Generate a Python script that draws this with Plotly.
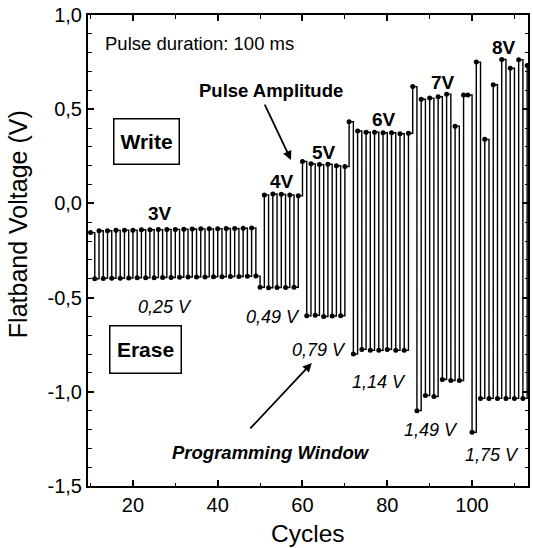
import plotly.graph_objects as go

# cycle numbers and flatband voltages (alternating write / erase readings)
cycles = list(range(10, 114))

v_3V = [-0.155, -0.400, -0.145, -0.398, -0.145, -0.397, -0.143, -0.397, -0.142, -0.396,
        -0.142, -0.395, -0.140, -0.395, -0.140, -0.394, -0.139, -0.393, -0.138, -0.393,
        -0.138, -0.392, -0.137, -0.391, -0.136, -0.391, -0.135, -0.390, -0.135, -0.389,
        -0.134, -0.389, -0.133, -0.388, -0.133, -0.388, -0.132, -0.387, -0.130, -0.386]
v_4V = [-0.445, 0.045, -0.448, 0.050, -0.447, 0.048, -0.446, 0.045, -0.445, 0.040]
v_5V = [0.223, -0.597, 0.210, -0.594, 0.206, -0.600, 0.208, -0.598, 0.200, -0.596, 0.196]
v_6V = [0.434, -0.800, 0.384, -0.775, 0.378, -0.780, 0.378, -0.780, 0.375, -0.775,
        0.375, -0.780, 0.370, -0.780, 0.372]
v_7V = [0.620, -1.100, 0.553, -1.020, 0.559, -1.025, 0.566, -0.935, 0.580, -0.940,
        0.410, -0.940, 0.575, 0.575]
v_8V = [-1.215, 0.750, -1.035, 0.340, -1.035, 0.630, -1.035, 0.764, -1.035, 0.718,
        -1.035, 0.763, -1.035, 0.732]

voltage = v_3V + v_4V + v_5V + v_6V + v_7V + v_8V

y_tickvals = [-1.5, -1.0, -0.5, 0.0, 0.5, 1.0]
y_ticktext = ["-1,5", "-1,0", "-0,5", "0,0", "0,5", "1,0"]
x_tickvals = [20, 40, 60, 80, 100]

FONT = "Liberation Sans, Arial, Helvetica, sans-serif"

fig = go.Figure()
fig.add_trace(go.Scatter(
    x=cycles, y=voltage, mode="lines+markers",
    line=dict(color="black", width=1.4, shape="hv"),
    marker=dict(color="black", size=5),
    showlegend=False, cliponaxis=False,
))

ann = []
def txt(x, y, s, size, bold=False, italic=False, **kw):
    t = s
    if bold:
        t = "<b>" + t + "</b>"
    if italic:
        t = "<i>" + t + "</i>"
    d = dict(x=x, y=y, xref="x", yref="y", text=t, showarrow=False,
             font=dict(family=FONT, size=size, color="black"))
    d.update(kw)
    ann.append(d)

txt(13.0, 0.851, "Pulse duration: 100 ms", 18.5, xanchor="left")
txt(52.6, 0.597, "Pulse Amplitude", 18.5, bold=True)
txt(23.3, 0.331, "Write", 21, bold=True, bordercolor="black", borderwidth=1.5,
    width=60, height=40, borderpad=2)
txt(23.0, -0.773, "Erase", 21, bold=True, bordercolor="black", borderwidth=1.5,
    width=66, height=42, borderpad=2)
for (x, y, s) in [(26.3, -0.051, "3V"), (55.2, 0.114, "4V"), (65.1, 0.268, "5V"),
                  (79.2, 0.443, "6V"), (93.2, 0.644, "7V"), (107.6, 0.830, "8V")]:
    txt(x, y, s, 19, bold=True)
for (x, y, s) in [(27.5, -0.550, "0,25 V"), (53.1, -0.603, "0,49 V"), (63.9, -0.778, "0,79 V"),
                  (78.0, -0.948, "1,14 V"), (90.2, -1.203, "1,49 V"), (104.8, -1.335, "1,75 V")]:
    txt(x, y, s, 18, italic=True)
txt(52.6, -1.320, "Programming Window", 18.5, bold=True, italic=True)

# arrows
ann.append(dict(x=57.3, y=0.230, xref="x", yref="y", ax=-27, ay=-57, text="",
                showarrow=True, arrowhead=2, arrowsize=1, arrowwidth=1.8, arrowcolor="black"))
ann.append(dict(x=62.2, y=-0.847, xref="x", yref="y", ax=-63, ay=67, text="",
                showarrow=True, arrowhead=2, arrowsize=1, arrowwidth=1.8, arrowcolor="black"))

# axis titles
ann.append(dict(x=0.5, y=-0.1, xref="paper", yref="paper", text="Cycles", showarrow=False,
                xanchor="center", yanchor="middle",
                font=dict(family=FONT, size=24.5, color="black")))
ann.append(dict(x=-0.16, y=0.555, xref="paper", yref="paper", text="Flatband Voltage (V)",
                showarrow=False, textangle=-90, xanchor="center", yanchor="middle",
                font=dict(family=FONT, size=25, color="black")))

fig.update_layout(
    width=533, height=548,
    margin=dict(l=88, r=3, t=15, b=62),
    paper_bgcolor="white", plot_bgcolor="white",
    annotations=ann,
    xaxis=dict(range=[9.4, 113.2], tickvals=x_tickvals, ticks="inside", ticklen=6,
               tickwidth=1.5, tickcolor="black", showline=True, linewidth=2,
               linecolor="black", mirror="ticks", showgrid=False, zeroline=False,
               tickfont=dict(family=FONT, size=20, color="black"),
               minor=dict(tickvals=[10, 30, 50, 70, 90, 110], ticks="inside", ticklen=3.5,
                          tickwidth=1.2, tickcolor="black", showgrid=False)),
    yaxis=dict(range=[-1.5, 1.0], tickvals=y_tickvals, ticktext=y_ticktext,
               ticks="inside", ticklen=6, tickwidth=1.5, tickcolor="black",
               showline=True, linewidth=2, linecolor="black", mirror="ticks",
               showgrid=False, zeroline=False,
               tickfont=dict(family=FONT, size=20, color="black"),
               minor=dict(dtick=0.1, ticks="inside", ticklen=3.5, tickwidth=1.2,
                          tickcolor="black", showgrid=False)),
)

fig.write_html("out.html")
